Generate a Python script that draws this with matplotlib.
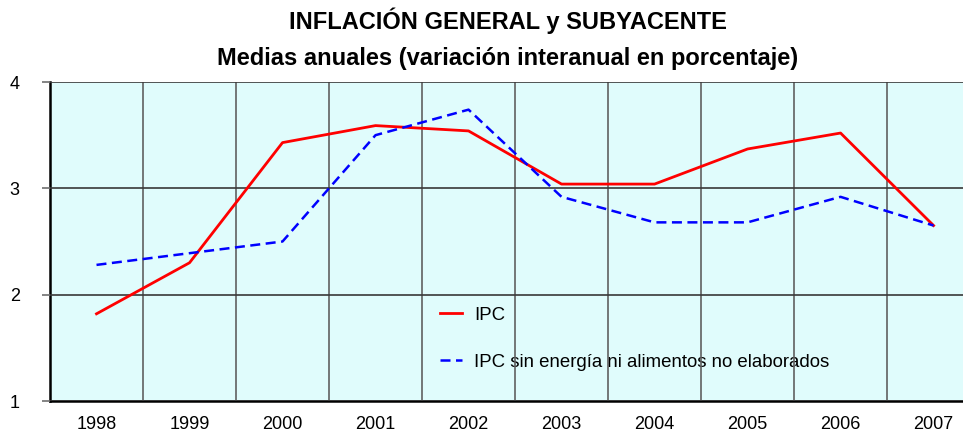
import numpy as np
import matplotlib
matplotlib.use('Agg')
import matplotlib.pyplot as plt

plt.rcParams['font.family'] = ['Liberation Sans', 'DejaVu Sans']

years = ['1998', '1999', '2000', '2001', '2002', '2003', '2004', '2005', '2006', '2007']
ipc = [1.82, 2.30, 3.43, 3.59, 3.54, 3.04, 3.04, 3.37, 3.52, 2.65]
ipc_sub = [2.28, 2.39, 2.50, 3.50, 3.74, 2.92, 2.68, 2.68, 2.92, 2.65]

W, H = 963, 434
fig = plt.figure(figsize=(W / 100, H / 100), dpi=100)
ax = fig.add_axes([50 / W, 1 - 401 / H, (W - 50) / W + 0.01, (401 - 82) / H])
ax.set_facecolor('#e0fcfc')

x = np.arange(len(years))
ax.plot(x, ipc, color='#ff0000', lw=2.0, label='IPC', zorder=3)
ax.plot(x, ipc_sub, color='#0000ff', lw=1.8, ls=(0, (4, 2.2)),
        label='IPC sin energía ni alimentos no elaborados', zorder=3)

ax.set_xlim(-0.5, 9.42)
ax.set_ylim(1, 4)
ax.set_yticks([1, 2, 3, 4])
ax.set_xticks(x)
ax.set_xticklabels(years)
ax.set_xticks(x[:-1] + 0.5, minor=True)
ax.tick_params(axis='x', which='major', length=0, pad=11, labelsize=13)
ax.tick_params(axis='x', which='minor', length=0)
ax.tick_params(axis='y', length=5.8, width=1.2, color='#707070', pad=16, labelsize=13)

ax.grid(axis='y', which='major', color='#383838', lw=1.2, zorder=1)
ax.grid(axis='x', which='minor', color='#606060', lw=1.2, zorder=1)
ax.set_axisbelow(False)
for s in ['top', 'right']:
    ax.spines[s].set_visible(False)
ax.spines['left'].set_linewidth(1.8)
ax.spines['bottom'].set_linewidth(1.8)

leg = ax.legend(loc='upper left', bbox_to_anchor=(0.405, 0.348), frameon=False,
                fontsize=13.4, handlelength=1.15, labelspacing=1.6, handletextpad=0.65)
leg.set_zorder(0.5)

fig.text(0.527, 0.953, 'INFLACIÓN GENERAL y SUBYACENTE', ha='center', va='center',
         fontsize=17, fontweight='bold')
fig.text(0.527, 0.866, 'Medias anuales (variación interanual en porcentaje)', ha='center',
         va='center', fontsize=17, fontweight='bold')

fig.savefig('out.png', dpi=100)
